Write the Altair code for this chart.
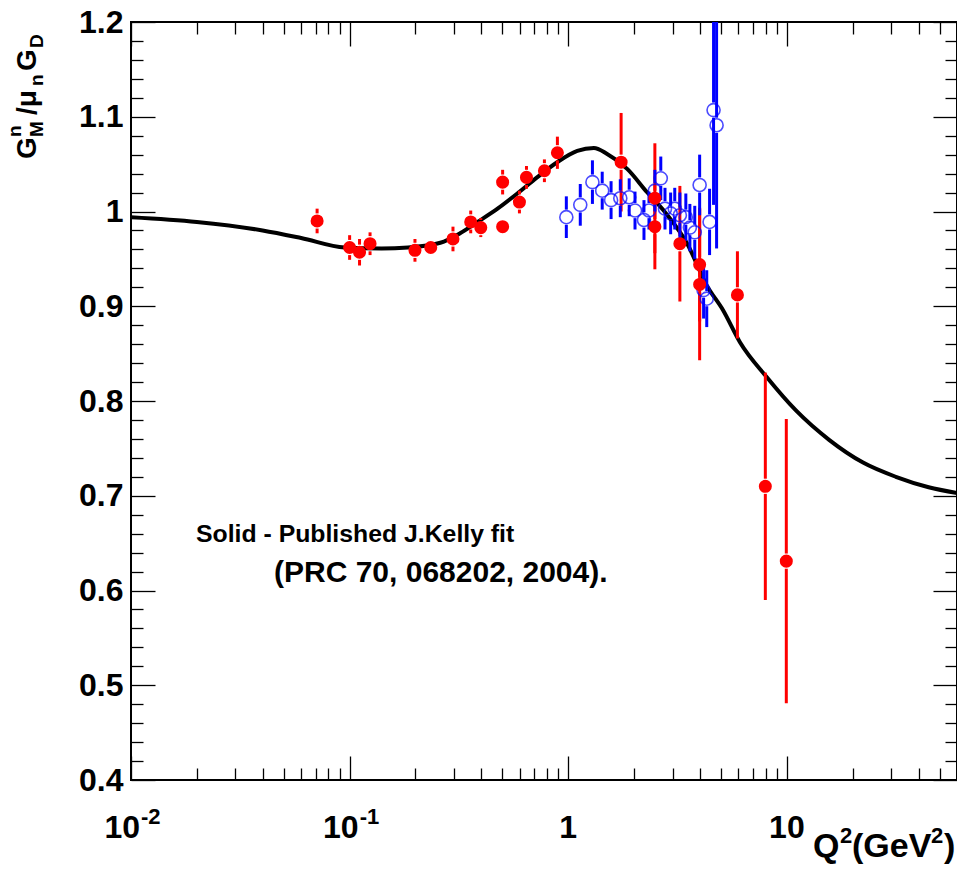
import altair as alt
import pandas as pd

# ---------------- data ----------------
# Red filled points (Q2, ratio, error)
red_q2 = [0.071, 0.100, 0.111, 0.124, 0.199, 0.235, 0.297, 0.358, 0.398, 0.501, 0.501,
          0.598, 0.644, 0.778, 0.892, 1.745, 2.49, 2.49, 3.24, 3.99, 3.99, 5.94, 7.97, 9.94]
red_val = [0.990, 0.962, 0.957, 0.966, 0.959, 0.962, 0.971, 0.989, 0.983, 0.984, 1.031,
           1.010, 1.036, 1.043, 1.062, 1.052, 1.014, 0.984, 0.966, 0.944, 0.923, 0.912, 0.710, 0.631]
red_err = [0.013, 0.013, 0.014, 0.012, 0.012, 0.006, 0.013, 0.012, 0.010, 0.005, 0.013,
           0.012, 0.012, 0.012, 0.017, 0.052, 0.058, 0.045, 0.061, 0.060, 0.080, 0.046, 0.120, 0.150]

# Blue open points (Q2, ratio, error)
blue_q2 = [0.98, 1.135, 1.29, 1.43, 1.57, 1.73, 1.90, 2.02, 2.22, 2.34, 2.49, 2.65, 2.77,
           2.94, 3.07, 3.24, 3.45, 3.60, 3.79, 3.99, 4.16, 4.30, 4.43, 4.62, 4.77]
blue_val = [0.994, 1.007, 1.031, 1.022, 1.012, 1.014, 1.015, 1.001, 0.991, 1.001, 1.022, 1.035, 1.003,
            0.998, 1.003, 0.996, 0.994, 0.983, 0.978, 1.028, 0.917, 0.908, 0.989, 1.107, 1.091]
blue_err = [0.022, 0.022, 0.023, 0.020, 0.020, 0.020, 0.020, 0.020, 0.021, 0.020, 0.022, 0.023, 0.022,
            0.022, 0.022, 0.024, 0.025, 0.025, 0.028, 0.032, 0.030, 0.030, 0.035, 0.100, 0.130]

# Kelly fit curve
fit_q2 = [0.01, 0.02, 0.04, 0.06, 0.095, 0.14, 0.185, 0.26, 0.32, 0.385, 0.475, 0.585, 0.72,
          0.89, 1.1, 1.31, 1.5, 1.86, 2.3, 2.8, 3.5, 4.3, 5.1, 6.1, 8.1, 11.0, 15.6, 22.3,
          31.5, 44.5, 60.0]
fit_val = [0.994, 0.989, 0.980, 0.972, 0.962, 0.961, 0.962, 0.967, 0.977, 0.989, 1.003, 1.019,
           1.036, 1.052, 1.064, 1.067, 1.061, 1.045, 1.020, 0.998, 0.966, 0.922, 0.896, 0.862,
           0.825, 0.790, 0.759, 0.735, 0.720, 0.709, 0.703]

x_major = [0.01, 0.1, 1, 10]
x_minor = [0.02, 0.03, 0.04, 0.05, 0.06, 0.07, 0.08, 0.09,
           0.2, 0.3, 0.4, 0.5, 0.6, 0.7, 0.8, 0.9,
           2, 3, 4, 5, 6, 7, 8, 9, 20, 30, 40, 50]
y_major = [0.4, 0.5, 0.6, 0.7, 0.8, 0.9, 1.0, 1.1, 1.2]
y_minor = [round(0.4 + 0.02 * i, 2) for i in range(41) if i % 5 != 0]

xlab_pow = [0.01, 0.1]
xlab_pow_main = ["10", "10"]
xlab_pow_sup = ["-2", "-1"]
xlab_plain = [1, 10]
xlab_plain_txt = ["1", "10"]

note1 = "Solid - Published J.Kelly fit"
note2 = "(PRC 70, 068202, 2004)."

# ---------------- layout ----------------
W, H = 826, 758
OX, OY = 131, 22          # page position of the plot origin
FONT = "Liberation Sans"
GAP = 0.008  # marker radius in y units (bars not drawn through markers)

xscale = alt.Scale(type="log", domain=[0.01, 60], nice=False)
yscale = alt.Scale(domain=[0.4, 1.2], nice=False, zero=False)

red = pd.DataFrame({"q2": red_q2, "v": red_val, "e": red_err})
blue = pd.DataFrame({"q2": blue_q2, "v": blue_val, "e": blue_err})
fit = pd.DataFrame({"q2": fit_q2, "v": fit_val})


def bar_segments(df):
    rows = []
    for q, v, e in zip(df.q2, df.v, df.e):
        if e > GAP:
            rows.append({"q2": q, "lo": v - e, "hi": v - GAP})
            rows.append({"q2": q, "lo": v + GAP, "hi": v + e})
    return pd.DataFrame(rows)


red_bars = bar_segments(red)
blue_bars = bar_segments(blue)

X = lambda f="q2": alt.X(f"{f}:Q", scale=xscale, axis=None)
Y = lambda f="v": alt.Y(f"{f}:Q", scale=yscale, axis=None)

curve = alt.Chart(fit).mark_line(color="black", strokeWidth=4, interpolate="monotone", clip=True).encode(
    x=X(), y=Y())

rbars = alt.Chart(red_bars).mark_rule(color="#ff0000", strokeWidth=3, clip=True).encode(
    x=X(), y=Y("lo"), y2="hi:Q")
bbars = alt.Chart(blue_bars).mark_rule(color="#0000ff", strokeWidth=3, clip=True).encode(
    x=X(), y=Y("lo"), y2="hi:Q")
bpts = alt.Chart(blue).mark_point(shape="circle", filled=False, color="#0000ff", size=170,
                                  strokeWidth=1.6, clip=True).encode(x=X(), y=Y())
rpts = alt.Chart(red).mark_point(shape="circle", filled=True, color="#ff0000", size=170,
                                 opacity=1, clip=True).encode(x=X(), y=Y())

# ---- tick axes (ticks pointing into the frame) ----
dummy = pd.DataFrame({"q2": [1.0], "v": [1.0]})


def tick_layer(xvals, xorient, yvals, yorient, size):
    ax = alt.Axis(orient=xorient, values=xvals, offset=-size, tickSize=size, labels=False,
                  domain=False, grid=False, title=None, tickColor="black", tickWidth=1.3)
    ay = alt.Axis(orient=yorient, values=yvals, offset=-size, tickSize=size, labels=False,
                  domain=False, grid=False, title=None, tickColor="black", tickWidth=1.3)
    return alt.Chart(dummy).mark_point(opacity=0).encode(
        x=alt.X("q2:Q", scale=xscale, axis=ax),
        y=alt.Y("v:Q", scale=yscale, axis=ay))


t1 = tick_layer(x_major, "bottom", y_major, "left", 24)
t2 = tick_layer(x_minor, "bottom", y_minor, "left", 12)
t3 = tick_layer(x_major, "top", y_major, "right", 24)
t4 = tick_layer(x_minor, "top", y_minor, "right", 12)

ylab = alt.Chart(dummy).mark_point(opacity=0).encode(
    x=alt.X("q2:Q", scale=xscale, axis=None),
    y=alt.Y("v:Q", scale=yscale, axis=alt.Axis(
        orient="left", values=y_major, ticks=False, tickSize=0, domain=False, grid=False,
        title=None, labelFont=FONT, labelFontWeight="bold", labelFontSize=32, labelColor="black",
        labelPadding=8, labelFlush=False, labelOverlap=False, labelBound=False,
        labelExpr="datum.value == 1 ? '1' : format(datum.value, '.1f')")))

# ---- x tick labels as text ----
lab_pow = pd.DataFrame({"q2": xlab_pow, "m": xlab_pow_main, "s": xlab_pow_sup})
lab_plain = pd.DataFrame({"q2": xlab_plain, "m": xlab_plain_txt})

xl1 = alt.Chart(lab_pow).mark_text(align="right", baseline="alphabetic", dx=9, font=FONT,
                                   fontWeight="bold", fontSize=32, color="black").encode(
    x=X(), y=alt.value(838 - OY), text="m:N")
xl2 = alt.Chart(lab_pow).mark_text(align="left", baseline="alphabetic", dx=10, font=FONT,
                                   fontWeight="bold", fontSize=22, color="black").encode(
    x=X(), y=alt.value(824 - OY), text="s:N")
xl3 = alt.Chart(lab_plain).mark_text(align="center", baseline="alphabetic", font=FONT,
                                     fontWeight="bold", fontSize=32, color="black").encode(
    x=X(), y=alt.value(838 - OY), text="m:N")


def txt(s, x, y, size, angle=0, align="left"):
    return alt.Chart(dummy).mark_text(text=s, align=align, baseline="alphabetic", angle=angle,
                                      font=FONT, fontWeight="bold", fontSize=size,
                                      color="black").encode(x=alt.value(x - OX), y=alt.value(y - OY))


# annotation
n1 = txt(note1, 196, 542, 24.8)
n2 = txt(note2, 274, 582, 30)

# x title  Q^2(GeV^2)
xt = [
    txt("Q", 813, 857, 34),
    txt("2", 840, 843, 22),
    txt("(GeV", 852, 857, 34),
    txt("2", 931, 843, 22),
    txt(")", 944, 857, 34),
]

# y title  G^n_M / mu_n G_D  (rotated, reading upwards)
yt = [
    txt("G", 36, 159, 28, angle=270),
    txt("n", 21, 137, 19, angle=270),
    txt("M", 43, 137, 19, angle=270),
    txt("/μ", 36, 115, 28, angle=270),
    txt("n", 43, 86, 19, angle=270),
    txt("G", 36, 71, 28, angle=270),
    txt("D", 43, 48, 19, angle=270),
]

chart = alt.layer(
    t1, t2, t3, t4, ylab, curve, rbars, bbars, bpts, rpts, xl1, xl2, xl3, n1, n2, *xt, *yt
).resolve_axis(x="independent", y="independent").properties(
    width=W, height=H,
    autosize=alt.AutoSizeParams(type="none"),
    padding={"left": OX - 8, "top": OY - 8, "right": 0, "bottom": 85},
    background="white",
).configure_view(stroke="black", strokeWidth=2)

chart.save("out.html", embed_options={"renderer": "svg", "actions": False})
